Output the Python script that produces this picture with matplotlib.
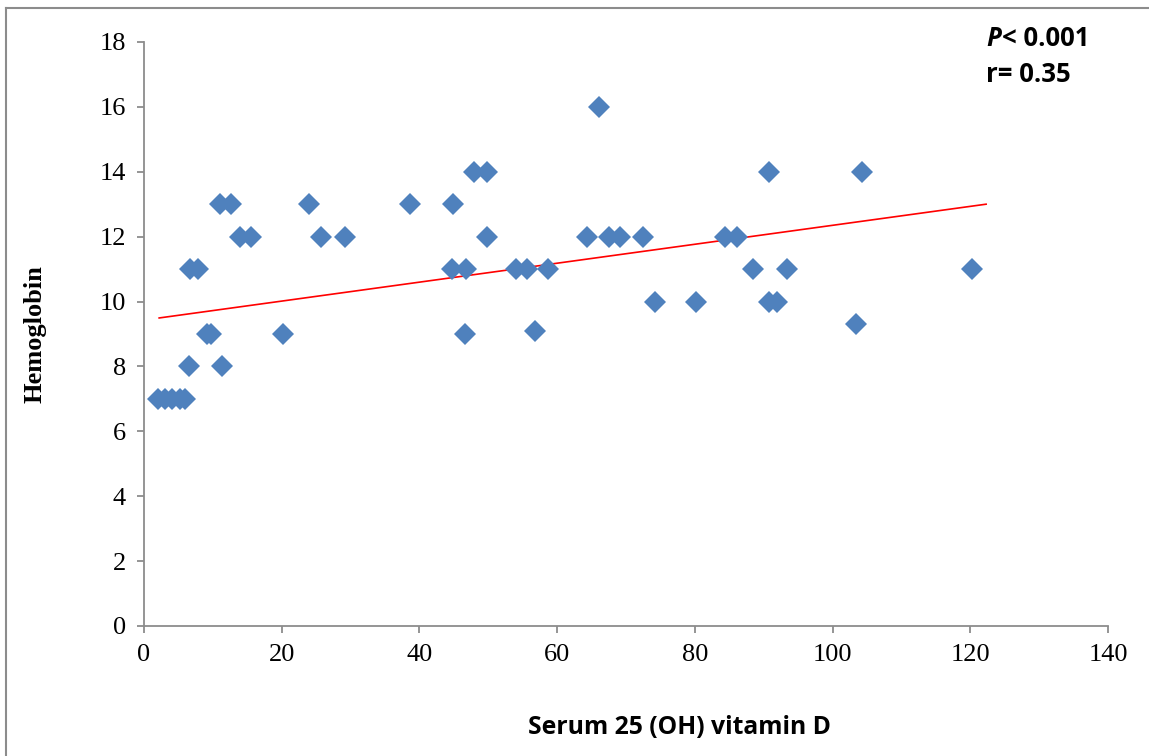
import matplotlib.pyplot as plt
from matplotlib.lines import Line2D

# Serum 25 (OH) vitamin D vs hemoglobin
vitamin_d = [2.0, 3.0, 4.0, 5.2, 6.0,
             6.5, 11.4,
             9.2, 9.8,
             6.7, 7.9,
             11.1, 12.6,
             13.9, 15.6,
             20.2, 24.0, 25.7, 29.2,
             38.6, 44.9,
             44.7, 46.7, 46.6,
             47.9, 49.8, 49.8,
             54.0, 55.6, 58.7, 56.8,
             64.4, 67.6, 69.2, 72.5, 66.1,
             74.2, 80.1,
             84.4, 86.1, 88.4,
             90.8, 90.8, 92.0, 93.4,
             103.4, 104.3, 120.2]
hemoglobin = [7, 7, 7, 7, 7,
              8, 8,
              9, 9,
              11, 11,
              13, 13,
              12, 12,
              9, 13, 12, 12,
              13, 13,
              11, 11, 9,
              14, 14, 12,
              11, 11, 11, 9.1,
              12, 12, 12, 12, 16,
              10, 10,
              12, 12, 11,
              14, 10, 10, 11,
              9.3, 14, 11]

# linear trend line as drawn in the chart
trend_x = [2.2, 122.3]
trend_slope = 0.0292
trend_intercept = 9.43

x_ticks = [0, 20, 40, 60, 80, 100, 120, 140]
y_ticks = [0, 2, 4, 6, 8, 10, 12, 14, 16, 18]

fig = plt.figure(figsize=(11.49, 7.56), dpi=100)
ax = fig.add_axes([144 / 1149, 1 - 626 / 756, 964 / 1149, 584 / 756])

ax.plot(vitamin_d, hemoglobin, linestyle='none', marker='D', markersize=11,
        color='#4F81BD', markeredgewidth=0, zorder=3)
ax.plot(trend_x, [trend_intercept + trend_slope * x for x in trend_x],
        color='red', linewidth=1.2, zorder=2)

ax.set_xlim(0, 140)
ax.set_ylim(0, 18)
ax.set_xticks(x_ticks)
ax.set_yticks(y_ticks)

for side in ['top', 'right']:
    ax.spines[side].set_visible(False)
for side in ['left', 'bottom']:
    ax.spines[side].set_color('#8C8C8C')
    ax.spines[side].set_linewidth(1.3)

ax.tick_params(axis='both', direction='out', length=5, width=1.3, color='#8C8C8C',
               labelsize=19, pad=8)
for lab in ax.get_xticklabels() + ax.get_yticklabels():
    lab.set_fontfamily('Liberation Serif')

ax.set_ylabel('Hemoglobin', fontfamily='Liberation Serif', fontweight='bold',
              fontsize=19, labelpad=38)
fig.text(680 / 1149, 1 - 727 / 756, 'Serum 25 (OH) vitamin D', fontfamily='Open Sans',
         fontweight='bold', fontsize=17.8, ha='center', va='center')

# statistics box in the upper right corner
fig.text(986 / 1149, 1 - 38 / 756, 'P', fontfamily='Open Sans', fontweight='bold',
         fontstyle='italic', fontsize=18.5, ha='left', va='center')
fig.text(1002 / 1149, 1 - 38 / 756, '< 0.001', fontfamily='Open Sans', fontweight='bold',
         fontsize=18.5, ha='left', va='center')
fig.text(986 / 1149, 1 - 74 / 756, 'r= 0.35', fontfamily='Open Sans', fontweight='bold',
         fontsize=18.5, ha='left', va='center')

# outer chart border (runs off the right and bottom edges)
fig.add_artist(Line2D([6 / 1149, 6 / 1149], [0, 1 - 8 / 756], transform=fig.transFigure,
                      color='#8C8C8C', linewidth=1.5))
fig.add_artist(Line2D([6 / 1149, 1], [1 - 8 / 756, 1 - 8 / 756], transform=fig.transFigure,
                      color='#8C8C8C', linewidth=1.5))

fig.savefig('out.png', dpi=100)
